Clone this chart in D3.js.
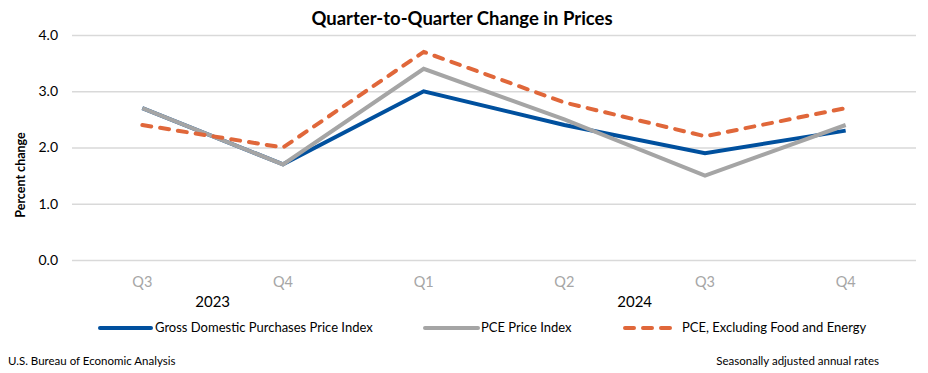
<!DOCTYPE html>
<html><head><meta charset="utf-8">
<script src="https://cdn.jsdelivr.net/npm/d3@7"></script>
<style>body{margin:0;background:#fff}svg{display:block}text{font-family:Lato,"Open Sans",sans-serif}</style>
</head><body><svg id="c" width="928" height="373"></svg>
<script>
const quarters = ["Q3","Q4","Q1","Q2","Q3","Q4"];
const years = [{label:"2023", from:0, to:1},{label:"2024", from:2, to:5}];
const gdpPurchases = [2.7, 1.7, 3.0, 2.4, 1.9, 2.3];
const pce = [2.7, 1.7, 3.4, 2.5, 1.5, 2.4];
const pceCore = [2.4, 2.0, 3.7, 2.8, 2.2, 2.7];
const yTicks = [0, 1, 2, 3, 4];
const seriesNames = ["Gross Domestic Purchases Price Index","PCE Price Index","PCE, Excluding Food and Energy"];

const svg = d3.select("#c");
const x = d3.scaleBand().domain(d3.range(quarters.length)).range([72, 916]);
const y = d3.scaleLinear().domain([0, 4]).range([260, 35]);
const cx = i => x(i) + x.bandwidth()/2;

svg.append("text").attr("x", 462).attr("y", 25).attr("text-anchor","middle")
  .attr("font-size", 18.5).attr("font-weight", "bold").text("Quarter-to-Quarter Change in Prices");

const yAxis = svg.append("g").attr("transform","translate(72,0)")
  .call(d3.axisLeft(y).tickValues(yTicks).tickSize(-844).tickFormat(d3.format(".1f")));
yAxis.select(".domain").remove();
yAxis.selectAll("line").attr("stroke","#D9D9D9").attr("stroke-width",1.5);
yAxis.selectAll("text").attr("x",-14).attr("font-size",14).attr("fill","#000").attr("font-family","Lato");

svg.append("text").attr("transform","translate(25,175) rotate(-90)").attr("text-anchor","middle")
  .attr("font-size",12.5).attr("font-weight","bold").text("Percent change");

const xAxis = svg.append("g").attr("transform","translate(0,260)")
  .call(d3.axisBottom(x).tickFormat(i => quarters[i]).tickSize(0).tickPadding(17));
xAxis.select(".domain").remove();
xAxis.selectAll("text").attr("font-size",14.5).attr("fill","#A6A6A6").attr("font-family","Lato");

years.forEach(yr => {
  svg.append("text").attr("x",(cx(yr.from)+cx(yr.to))/2).attr("y",307).attr("text-anchor","middle")
    .attr("font-size",15).text(yr.label);
});

const line = d3.line().x((d,i)=>cx(i)).y(d=>y(d));
const styles = [
  {data:gdpPurchases, color:"#00509E", dash:null},
  {data:pce, color:"#A5A5A5", dash:null},
  {data:pceCore, color:"#E0673A", dash:"9,9"}
];
styles.forEach(s => {
  svg.append("path").datum(s.data).attr("d", line).attr("fill","none")
    .attr("stroke", s.color).attr("stroke-width", 4)
    .attr("stroke-dasharray", s.dash).attr("stroke-linecap", s.dash ? "round" : "butt")
    .attr("stroke-linejoin", "miter");
});
// legend
const leg = [
  {x1:100, x2:151, tx:155, color:"#00509E", dash:null, name:seriesNames[0]},
  {x1:425, x2:478, tx:481, color:"#A5A5A5", dash:null, name:seriesNames[1]},
  {x1:625, x2:670, tx:682, color:"#E0673A", dash:"9,9", name:seriesNames[2]}
];
leg.forEach(l => {
  svg.append("line").attr("x1",l.x1).attr("x2",l.x2).attr("y1",328).attr("y2",328)
    .attr("stroke",l.color).attr("stroke-width",4).attr("stroke-dasharray",l.dash)
    .attr("stroke-linecap", "round");
  svg.append("text").attr("x",l.tx).attr("y",332).attr("font-size",13).text(l.name);
});

svg.append("text").attr("x",8).attr("y",365).attr("font-size",11.5).text("U.S. Bureau of Economic Analysis");
svg.append("text").attr("x",879).attr("y",365).attr("text-anchor","end").attr("font-size",11.5).text("Seasonally adjusted annual rates");
</script></body></html>
